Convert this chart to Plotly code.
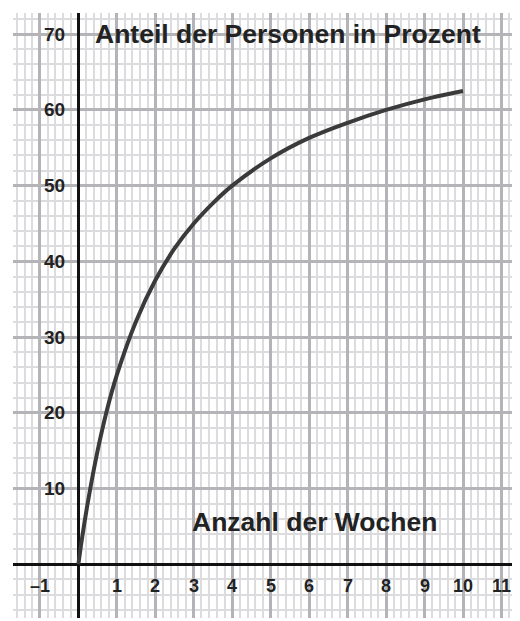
import plotly.graph_objects as go

# Data
weeks = [0, 0.1, 0.25, 0.5, 0.75, 1, 1.5, 2, 2.5, 3, 3.5, 4, 5, 6, 7, 8, 9, 10]
percent = [0, 3.6, 8.3, 15, 20.5, 25, 32.1, 37.5, 41.7, 45, 47.7, 50, 53.6, 56.3, 58.3, 60, 61.4, 62.5]

x_tick_vals = [-1, 1, 2, 3, 4, 5, 6, 7, 8, 9, 10, 11]
x_tick_text = ["\u20131", "1", "2", "3", "4", "5", "6", "7", "8", "9", "10", "11"]
y_tick_vals = [10, 20, 30, 40, 50, 60, 70]
y_tick_text = ["10", "20", "30", "40", "50", "60", "70"]

y_title = "Anteil der Personen in Prozent"
x_title = "Anzahl der Wochen"

FONT = "Liberation Sans, Arial, sans-serif"
TXT = "#222222"

fig = go.Figure()
fig.add_trace(go.Scatter(
    x=weeks, y=percent, mode="lines", line_shape="spline",
    line=dict(color="#3a3a3a", width=4), hoverinfo="skip", showlegend=False,
))

annotations = []
for v, t in zip(x_tick_vals, x_tick_text):
    annotations.append(dict(x=v, y=0, xref="x", yref="y", text="<b>%s</b>" % t,
                            showarrow=False, xanchor="center", yanchor="top",
                            yshift=-10, font=dict(family=FONT, size=18, color=TXT)))
for v, t in zip(y_tick_vals, y_tick_text):
    annotations.append(dict(x=0, y=v, xref="x", yref="y", text="<b>%s</b>" % t,
                            showarrow=False, xanchor="right", yanchor="middle",
                            xshift=-11, font=dict(family=FONT, size=19, color=TXT)))
annotations.append(dict(x=0.38, y=70, xref="x", yref="y", text="<b>%s</b>" % y_title,
                        showarrow=False, xanchor="left", yanchor="middle",
                        font=dict(family=FONT, size=26.5, color=TXT)))
annotations.append(dict(x=2.9, y=5.6, xref="x", yref="y", text="<b>%s</b>" % x_title,
                        showarrow=False, xanchor="left", yanchor="middle",
                        font=dict(family=FONT, size=26.5, color=TXT)))

# The page body adds an 8px offset, so the figure is sized to fit the window.
fig.update_layout(
    width=512, height=613,
    margin=dict(l=5, r=2, t=5, b=3),
    paper_bgcolor="white", plot_bgcolor="white",
    annotations=annotations,
    xaxis=dict(range=[-1.7, 11.43], dtick=1, tick0=0, showgrid=True,
               gridcolor="#b4b4b8", gridwidth=2.5,
               minor=dict(dtick=0.2, tick0=0, showgrid=True, gridcolor="#dcdcde", gridwidth=2),
               zeroline=True, zerolinecolor="#111111", zerolinewidth=3,
               showticklabels=False, ticks="", showline=False, fixedrange=True),
    yaxis=dict(range=[-7.1, 72.8], dtick=10, tick0=0, showgrid=True,
               gridcolor="#b4b4b8", gridwidth=2.5,
               minor=dict(dtick=2, tick0=0, showgrid=True, gridcolor="#dcdcde", gridwidth=2),
               zeroline=True, zerolinecolor="#111111", zerolinewidth=3,
               showticklabels=False, ticks="", showline=False, fixedrange=True),
)

fig.write_html("out.html", config={"displayModeBar": False})
